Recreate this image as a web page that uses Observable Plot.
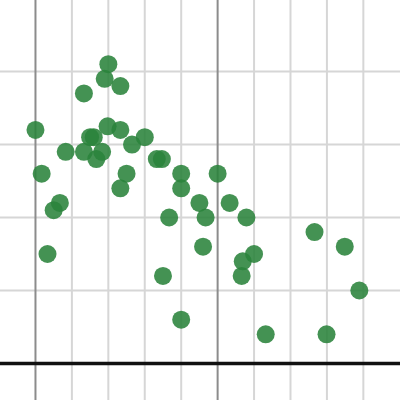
<!DOCTYPE html>
<html>
<head>
<meta charset="utf-8">
<script src="https://cdn.jsdelivr.net/npm/d3@7"></script>
<script src="https://cdn.jsdelivr.net/npm/@observablehq/plot@0.6"></script>
<style>
  html, body { margin: 0; padding: 0; background: #fff; }
  #chart svg { display: block; }
</style>
</head>
<body>
<div id="chart"></div>
<script>
const xValues = [0, 0.17, 0.33, 0.5, 0.67, 0.83, 1.33, 1.33, 1.5, 1.6, 1.67, 1.83, 1.9, 2.0, 1.98, 2.33, 2.33, 2.33, 2.5, 2.65, 3.0, 3.33, 3.47, 3.5, 3.67, 4.0, 4.0, 4.0, 4.5, 4.6, 4.67, 5.0, 5.33, 5.66, 5.69, 5.79, 6.0, 6.32, 7.66, 7.99, 8.49, 8.89];
const yValues = [3.2, 2.6, 1.5, 2.1, 2.2, 2.9, 3.7, 2.9, 3.1, 3.1, 2.8, 2.9, 3.9, 4.1, 3.25, 3.8, 3.2, 2.4, 2.6, 3.0, 3.1, 2.8, 2.8, 1.2, 2.0, 2.6, 2.4, 0.6, 2.2, 1.6, 2.0, 2.6, 2.2, 1.2, 1.4, 2.0, 1.5, 0.4, 1.8, 0.4, 1.6, 1.0];
const minorX = [1, 2, 3, 4, 6, 7, 8, 9];
const majorX = [0, 5];
const gridY = [1, 2, 3, 4];
const baseY = [0];

const points = xValues.map((x, i) => ({x, y: yValues[i]}));

const chart = Plot.plot({
  width: 400,
  height: 400,
  margin: 0,
  style: {background: "#fff", overflow: "visible"},
  x: {domain: [-0.96, 10.02], axis: null},
  y: {domain: [-0.507, 4.973], axis: null},
  marks: [
    Plot.ruleX(minorX, {stroke: "#d6d6d6", strokeWidth: 2}),
    Plot.ruleY(gridY, {stroke: "#d6d6d6", strokeWidth: 2}),
    Plot.ruleX(majorX, {stroke: "#8c8c8c", strokeWidth: 2}),
    Plot.ruleY(baseY, {stroke: "#111", strokeWidth: 3.5}),
    Plot.dot(points, {x: "x", y: "y", r: 9, fill: "#2a833b", fillOpacity: 0.88, stroke: "none"})
  ]
});
document.getElementById("chart").appendChild(chart);
</script>
</body>
</html>
